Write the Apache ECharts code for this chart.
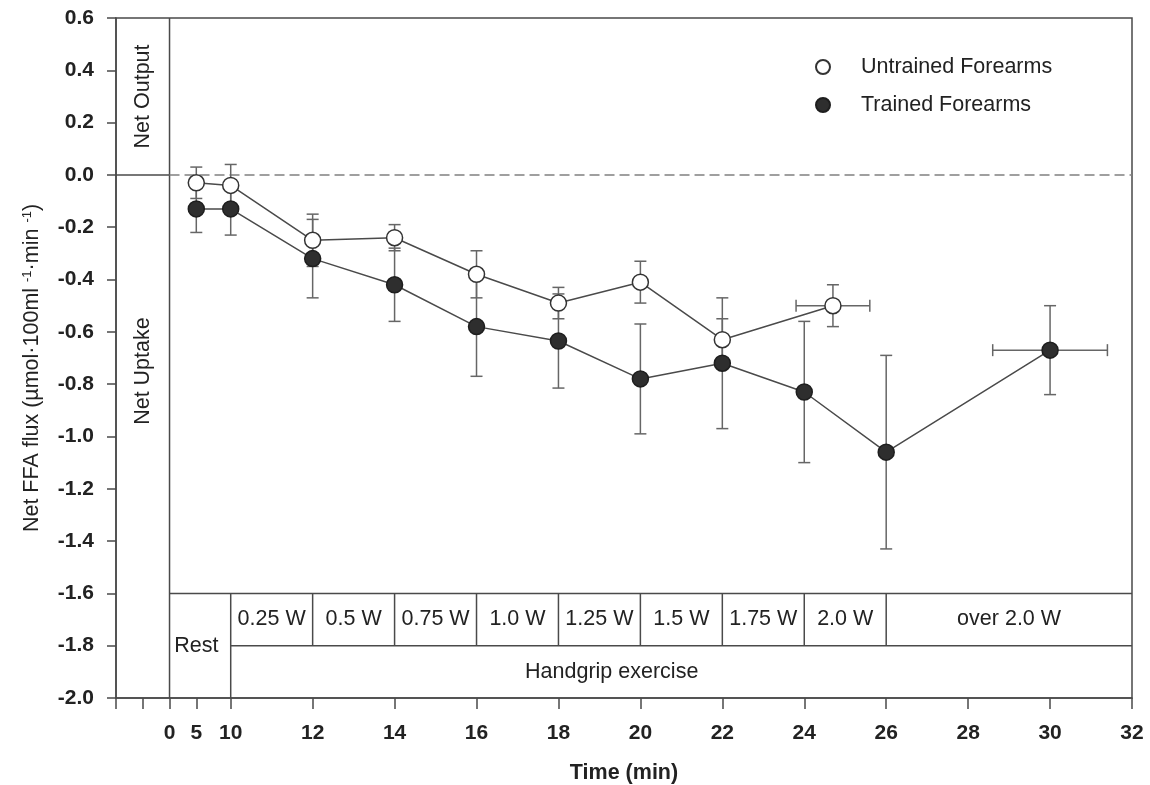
<!DOCTYPE html>
<html>
<head>
<meta charset="utf-8">
<script src="https://cdn.jsdelivr.net/npm/echarts@6/dist/echarts.min.js"></script>
<style>
  html, body { margin: 0; padding: 0; background: #fff; }
  #chart { width: 1150px; height: 785px; }
</style>
</head>
<body>
<div id="chart"></div>
<script>
// Net forearm FFA flux at rest and during incremental handgrip exercise

// Time axis: compressed rest segment, linear from 10 min onwards
const timeKnots = [-10, 5, 10, 32];
const axisKnots = [7.2, 9.16, 10, 32];

const tickTimes  = [-10, -5, 0, 5, 10, 12, 14, 16, 18, 20, 22, 24, 26, 28, 30, 32];
const labelTimes = [0, 5, 10, 12, 14, 16, 18, 20, 22, 24, 26, 28, 30, 32];

// Untrained forearms (mean, SE; time SE for the final stage)
const untrainedTime   = [5, 10, 12, 14, 16, 18, 20, 22, 24.7];
const untrainedFlux   = [-0.03, -0.04, -0.25, -0.24, -0.38, -0.49, -0.41, -0.63, -0.50];
const untrainedSE     = [0.06, 0.08, 0.10, 0.05, 0.09, 0.06, 0.08, 0.08, 0.08];
const untrainedTimeSE = [0, 0, 0, 0, 0, 0, 0, 0, 0.9];

// Trained forearms
const trainedTime   = [5, 10, 12, 14, 16, 18, 20, 22, 24, 26, 30];
const trainedFlux   = [-0.13, -0.13, -0.32, -0.42, -0.58, -0.635, -0.78, -0.72, -0.83, -1.06, -0.67];
const trainedSE     = [0.09, 0.10, 0.15, 0.14, 0.19, 0.18, 0.21, 0.25, 0.27, 0.37, 0.17];
const trainedTimeSE = [0, 0, 0, 0, 0, 0, 0, 0, 0, 0, 1.4];

// Workload stages of the handgrip protocol
const stageEdges     = [10, 12, 14, 16, 18, 20, 22, 24, 26, 32];
const workloadLabels = ['0.25 W', '0.5 W', '0.75 W', '1.0 W', '1.25 W', '1.5 W', '1.75 W', '2.0 W', 'over 2.0 W'];

const FONT = '"Liberation Sans", Arial, Helvetica, sans-serif';
const INK = '#222';
const LINE = '#4a4a4a';
const BAR = '#666';

// piecewise-linear time -> axis position
function toAxis(t) {
  for (let i = 0; i < timeKnots.length - 1; i++) {
    const a = timeKnots[i], b = timeKnots[i + 1];
    if (t <= b || i === timeKnots.length - 2) {
      return axisKnots[i] + (t - a) * (axisKnots[i + 1] - axisKnots[i]) / (b - a);
    }
  }
}

function seriesPoints(times, flux) {
  return times.map((t, i) => [toAxis(t), flux[i]]);
}

function errorData(times, flux, se, tse) {
  return times.map((t, i) => [
    toAxis(t), flux[i], flux[i] - se[i], flux[i] + se[i],
    toAxis(t - tse[i]), toAxis(t + tse[i])
  ]);
}

function renderError(params, api) {
  const x = api.value(0), y = api.value(1);
  const lo = api.coord([x, api.value(2)]);
  const hi = api.coord([x, api.value(3)]);
  const cap = 6;
  const st = { stroke: BAR, lineWidth: 1.5 };
  const kids = [
    { type: 'line', shape: { x1: lo[0], y1: lo[1], x2: hi[0], y2: hi[1] }, style: st },
    { type: 'line', shape: { x1: lo[0] - cap, y1: lo[1], x2: lo[0] + cap, y2: lo[1] }, style: st },
    { type: 'line', shape: { x1: hi[0] - cap, y1: hi[1], x2: hi[0] + cap, y2: hi[1] }, style: st }
  ];
  if (api.value(5) - api.value(4) > 1e-6) {
    const l = api.coord([api.value(4), y]);
    const r = api.coord([api.value(5), y]);
    kids.push(
      { type: 'line', shape: { x1: l[0], y1: l[1], x2: r[0], y2: r[1] }, style: st },
      { type: 'line', shape: { x1: l[0], y1: l[1] - cap, x2: l[0], y2: l[1] + cap }, style: st },
      { type: 'line', shape: { x1: r[0], y1: r[1] - cap, x2: r[0], y2: r[1] + cap }, style: st }
    );
  }
  return { type: 'group', children: kids };
}

// Frame segments: rest/exercise divider, zero line, workload table
const frameSegments = [];
frameSegments.push([0, 0.6, 0, -2.0, 0]);          // divider at t = 0
frameSegments.push([-10, 0, 0, 0, 0]);             // zero line, solid part
frameSegments.push([0, 0, 32, 0, 1]);              // zero line, dashed part
frameSegments.push([0, -1.6, 32, -1.6, 0]);        // table top
frameSegments.push([10, -1.8, 32, -1.8, 0]);       // workload row bottom
frameSegments.push([10, -1.6, 10, -2.0, 0]);       // rest | exercise
stageEdges.slice(1, -1).forEach(t => frameSegments.push([t, -1.6, t, -1.8, 0]));

function renderSegment(params, api) {
  const a = api.coord([toAxis(api.value(0)), api.value(1)]);
  const b = api.coord([toAxis(api.value(2)), api.value(3)]);
  const dashed = api.value(4) === 1;
  return {
    type: 'line',
    shape: { x1: a[0], y1: a[1], x2: b[0], y2: b[1] },
    style: dashed
      ? { stroke: '#808080', lineWidth: 1.5, lineDash: [10, 5] }
      : { stroke: LINE, lineWidth: 1.5 }
  };
}

// Text annotations: [time, flux, rotated]
const noteTexts = [];
const notePos = [];
workloadLabels.forEach((txt, i) => {
  noteTexts.push(txt);
  notePos.push([(stageEdges[i] + stageEdges[i + 1]) / 2, -1.7, 0]);
});
noteTexts.push('Rest');              notePos.push([5, -1.8, 0]);
noteTexts.push('Handgrip exercise'); notePos.push([19.3, -1.9, 0]);
noteTexts.push('Net Output');        notePos.push([-5, 0.3, 1]);
noteTexts.push('Net Uptake');        notePos.push([-5, -0.75, 1]);

function renderNote(params, api) {
  const p = api.coord([toAxis(api.value(0)), api.value(1)]);
  const rotated = api.value(2) === 1;
  return {
    type: 'text',
    x: p[0], y: p[1],
    rotation: rotated ? Math.PI / 2 : 0,
    style: {
      text: noteTexts[params.dataIndex],
      fontFamily: FONT, fontSize: 21.5, fill: INK,
      align: 'center', verticalAlign: 'middle'
    }
  };
}

const chart = echarts.init(document.getElementById('chart'), null, { renderer: 'canvas' });

const tickPositions = tickTimes.map(toAxis);
const labelPositions = labelTimes.map(toAxis);

chart.setOption({
  animation: false,
  backgroundColor: '#fff',
  textStyle: { fontFamily: FONT },
  grid: {
    left: 116, right: 18, top: 18, bottom: 87,
    outerBoundsMode: 'none',
    containLabel: false,
    show: true, borderColor: LINE, borderWidth: 1.5, backgroundColor: 'transparent'
  },
  legend: {
    orient: 'vertical',
    left: 815, top: 56,
    padding: 0,
    itemWidth: 66, itemHeight: 14, itemGap: 16,
    symbolKeepAspect: true,
    selectedMode: false,
    textStyle: { fontFamily: FONT, fontSize: 21.5, color: INK },
    data: [
      { name: 'Untrained Forearms', icon: 'circle' },
      { name: 'Trained Forearms', icon: 'circle' }
    ]
  },
  xAxis: {
    type: 'value',
    min: axisKnots[0],
    max: axisKnots[axisKnots.length - 1],
    name: 'Time (min)',
    nameLocation: 'middle',
    nameGap: 64,
    nameTextStyle: { fontFamily: FONT, fontSize: 21.5, fontWeight: 'bold', color: INK },
    axisLine: { show: true, onZero: false, lineStyle: { color: LINE, width: 1.5 } },
    axisTick: { show: true, length: 11, customValues: tickPositions, lineStyle: { color: LINE, width: 1.5 } },
    axisLabel: {
      customValues: labelPositions,
      margin: 25,
      fontFamily: FONT, fontSize: 21, fontWeight: 'bold', color: INK,
      formatter: v => {
        const k = labelPositions.findIndex(p => Math.abs(p - v) < 1e-6);
        return k >= 0 ? String(labelTimes[k]) : '';
      }
    },
    splitLine: { show: false }
  },
  yAxis: {
    type: 'value',
    min: -2.0, max: 0.6, interval: 0.2,
    name: 'Net FFA flux (µmol·100ml {sup|-1}·min {sup|-1})',
    nameLocation: 'middle',
    nameGap: 73,
    nameTextStyle: {
      fontFamily: FONT, fontSize: 21.5, color: INK,
      padding: [0, 20, 0, 0],
      rich: { sup: { fontFamily: FONT, fontSize: 13, color: INK, verticalAlign: 'top', lineHeight: 13 } }
    },
    axisLine: { show: true, onZero: false, lineStyle: { color: LINE, width: 1.5 } },
    axisTick: { show: true, length: 9, lineStyle: { color: LINE, width: 1.5 } },
    axisLabel: {
      margin: 22,
      fontFamily: FONT, fontSize: 21, fontWeight: 'bold', color: INK,
      formatter: v => v.toFixed(1)
    },
    splitLine: { show: false }
  },
  series: [
    {
      type: 'custom', name: 'frame', silent: true, z: 1,
      data: frameSegments, renderItem: renderSegment,
      encode: { x: 0, y: 1 }, clip: false
    },
    {
      type: 'custom', name: 'notes', silent: true, z: 1,
      data: notePos, renderItem: renderNote,
      encode: { x: 0, y: 1 }, clip: false
    },
    {
      type: 'custom', name: 'untrainedErr', silent: true, z: 2,
      data: errorData(untrainedTime, untrainedFlux, untrainedSE, untrainedTimeSE),
      renderItem: renderError, encode: { x: 0, y: 1 }
    },
    {
      type: 'custom', name: 'trainedErr', silent: true, z: 2,
      data: errorData(trainedTime, trainedFlux, trainedSE, trainedTimeSE),
      renderItem: renderError, encode: { x: 0, y: 1 }
    },
    {
      type: 'line', name: 'Trained Forearms', z: 3,
      data: seriesPoints(trainedTime, trainedFlux),
      symbol: 'circle', symbolSize: 16, showSymbol: true,
      lineStyle: { color: LINE, width: 1.5 },
      itemStyle: { color: '#2e2e2e', borderColor: '#1e1e1e', borderWidth: 1.5 },
      emphasis: { disabled: true }
    },
    {
      type: 'line', name: 'Untrained Forearms', z: 4,
      data: seriesPoints(untrainedTime, untrainedFlux),
      symbol: 'circle', symbolSize: 16, showSymbol: true,
      lineStyle: { color: LINE, width: 1.5 },
      itemStyle: { color: '#ffffff', borderColor: '#333', borderWidth: 1.5 },
      emphasis: { disabled: true }
    }
  ]
});
</script>
</body>
</html>
